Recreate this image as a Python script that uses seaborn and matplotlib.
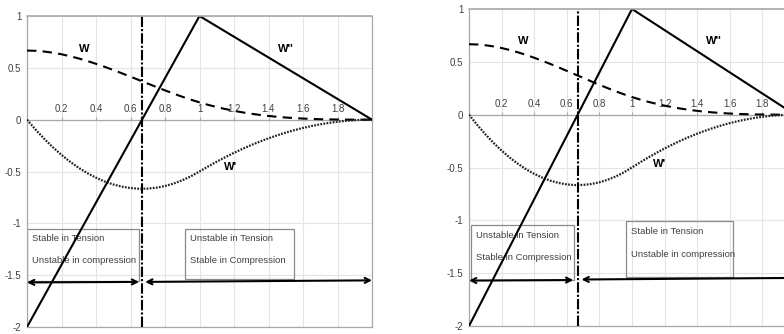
import matplotlib
matplotlib.use("Agg")
import matplotlib.pyplot as plt
import matplotlib.ticker as mticker
from matplotlib.patches import Rectangle
import numpy as np
import pandas as pd
import seaborn as sns

# Beam deflection W, slope W' and curvature W'' along the span
x_vals = [0.00, 0.05, 0.10, 0.15, 0.20, 0.25, 0.30, 0.35, 0.40, 0.45,
          0.50, 0.55, 0.60, 0.65, 0.70, 0.75, 0.80, 0.85, 0.90, 0.95,
          1.00, 1.05, 1.10, 1.15, 1.20, 1.25, 1.30, 1.35, 1.40, 1.45,
          1.50, 1.55, 1.60, 1.65, 1.70, 1.75, 1.80, 1.85, 1.90, 1.95, 2.00]
w_vals = [0.6667, 0.6642, 0.6572, 0.6459, 0.6307, 0.6120, 0.5902, 0.5656,
          0.5387, 0.5098, 0.4792, 0.4474, 0.4147, 0.3815, 0.3482, 0.3151,
          0.2827, 0.2513, 0.2212, 0.1929, 0.1667, 0.1429, 0.1215, 0.1024,
          0.0853, 0.0703, 0.0572, 0.0458, 0.0360, 0.0277, 0.0208, 0.0152,
          0.0107, 0.0071, 0.0045, 0.0026, 0.0013, 0.0006, 0.0002, 0.0000,
          0.0000]
w1_vals = [0.0, -0.0963, -0.1850, -0.2663, -0.3400, -0.4063, -0.4650,
           -0.5163, -0.5600, -0.5963, -0.6250, -0.6463, -0.6600, -0.6663,
           -0.6650, -0.6563, -0.6400, -0.6163, -0.5850, -0.5463, -0.5000,
           -0.4513, -0.4050, -0.3613, -0.3200, -0.2813, -0.2450, -0.2113,
           -0.1800, -0.1513, -0.1250, -0.1013, -0.0800, -0.0613, -0.0450,
           -0.0313, -0.0200, -0.0113, -0.0050, -0.0013, 0.0]
w2_x = [0.0, 1.0, 2.0]
w2_vals = [-2.0, 1.0, 0.0]

x_split = 0.667
x_ticks = [0.2, 0.4, 0.6, 0.8, 1.0, 1.2, 1.4, 1.6, 1.8]
y_ticks = [1, 0.5, 0, -0.5, -1, -1.5, -2]

left_texts = ["Stable in Tension", "Unstable in compression"]
right_texts = ["Unstable in Tension", "Stable in Compression"]

sns.set_style("white")
plt.rcParams["font.family"] = ["Liberation Sans", "DejaVu Sans"]
plt.rcParams["axes.unicode_minus"] = False

curves = pd.DataFrame({"x": x_vals, "W": w_vals, "W'": w1_vals})
curv = pd.DataFrame({"x": w2_x, "W''": w2_vals})

FRAME = "#a8a8a8"
GRID = "#e4e4e4"
TXT = "#404040"


def draw_panel(ax, box_a, box_b, texts_a, texts_b, arrows, labels):
    ax.set_xlim(0, 2)
    ax.set_ylim(-2, 1)
    ax.set_xticks(np.arange(0, 2.01, 0.2))
    ax.set_yticks(y_ticks)
    ax.grid(True, color=GRID, lw=0.8, zorder=0)

    sns.lineplot(data=curves, x="x", y="W", ax=ax, color="black", lw=1.5,
                 linestyle=(0, (4.5, 3)), zorder=3)
    sns.lineplot(data=curves, x="x", y="W'", ax=ax, color="#222222", lw=1.6,
                 linestyle=(0, (0.8, 0.6)), zorder=3)
    sns.lineplot(data=curv, x="x", y="W''", ax=ax, color="black", lw=1.5,
                 zorder=3)
    ax.axvline(x_split, color="black", lw=1.5, linestyle=(0, (5, 1, 1, 1)),
               zorder=4)

    # x axis sits on y = 0 with labels above it
    ax.spines["top"].set_position(("data", 0))
    ax.xaxis.set_ticks_position("top")
    ax.xaxis.set_major_formatter(mticker.FuncFormatter(
        lambda v, p: "" if abs(v) < 1e-9 or abs(v - 2) < 1e-9 else f"{v:g}"))
    ax.yaxis.set_major_formatter(mticker.FuncFormatter(lambda v, p: f"{v:g}"))
    ax.tick_params(axis="x", direction="out", length=2.5, pad=1.5,
                   labelsize=7, colors=TXT, color=FRAME)
    ax.tick_params(axis="y", direction="in", length=2.5, pad=4,
                   labelsize=7, colors=TXT, color=FRAME)
    for s in ax.spines.values():
        s.set_color(FRAME)
        s.set_linewidth(0.9)
    ax.axhline(1, color=FRAME, lw=1.2, zorder=5, clip_on=False)
    ax.set_xlabel("")
    ax.set_ylabel("")

    for (x0, x1, y0, y1), texts in ((box_a, texts_a), (box_b, texts_b)):
        ax.add_patch(Rectangle((x0, y0), x1 - x0, y1 - y0, fill=False,
                               edgecolor="#8a8a8a", lw=0.9, zorder=2))
        ax.text(x0 + 0.03, y1 - 0.1, texts[0], fontsize=6.8, color=TXT,
                va="center", ha="left", zorder=2)
        ax.text(x0 + 0.03, y1 - 0.31, texts[1], fontsize=6.8, color=TXT,
                va="center", ha="left", zorder=2)

    for (xa, ya, xb, yb) in arrows:
        ax.annotate("", xy=(xb, yb), xytext=(xa, ya),
                    arrowprops=dict(arrowstyle="<->", lw=1.5, color="black",
                                    shrinkA=0, shrinkB=0,
                                    mutation_scale=9), zorder=4)

    for (lx, ly, s) in labels:
        ax.text(lx, ly, s, fontsize=8, fontweight="bold", ha="center",
                va="center", color="black", zorder=4)


fig = plt.figure(figsize=(7.84, 3.34), dpi=100)
ax1 = fig.add_axes([27 / 784, 7 / 334, 345 / 784, 311 / 334])
ax2 = fig.add_axes([469 / 784, 8 / 334, 326 / 784, 317 / 334])

draw_panel(ax1,
           (0.0, 0.65, -1.56, -1.05), (0.915, 1.55, -1.54, -1.05),
           left_texts, right_texts,
           [(0.0, -1.57, 0.65, -1.565), (0.685, -1.565, 2.0, -1.55)],
           [(0.33, 0.68, "W"), (1.5, 0.68, "W''"), (1.18, -0.46, "W'")])

draw_panel(ax2,
           (0.01, 0.645, -1.56, -1.04), (0.965, 1.62, -1.54, -1.01),
           right_texts, left_texts,
           [(0.0, -1.57, 0.64, -1.565), (0.69, -1.56, 2.0, -1.545)],
           [(0.33, 0.70, "W"), (1.5, 0.70, "W''"), (1.17, -0.47, "W'")])

fig.savefig("out.png", dpi=100)
